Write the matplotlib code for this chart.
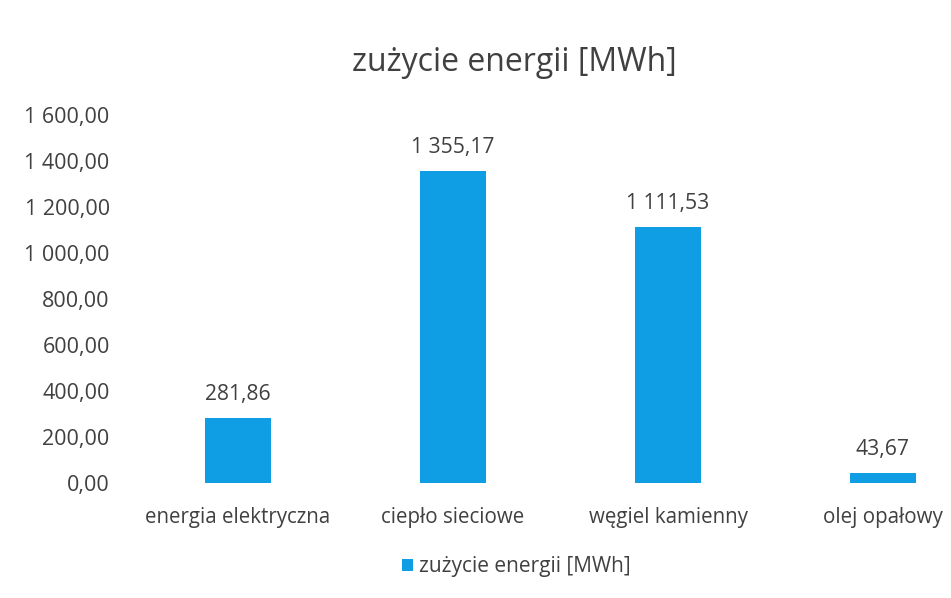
import matplotlib.pyplot as plt
from matplotlib.ticker import FuncFormatter

categories = ['energia elektryczna', 'ciepło sieciowe', 'węgiel kamienny', 'olej opałowy']
values = [281.86, 1355.17, 1111.53, 43.67]
series_name = 'zużycie energii [MWh]'
yticks = [0, 200, 400, 600, 800, 1000, 1200, 1400, 1600]

plt.rcParams['font.family'] = ['Open Sans', 'DejaVu Sans']

bar_color = '#0f9de4'
text_color = '#404040'


def pl_fmt(v, pos=None):
    # polish style: space as thousands sep, comma as decimal
    s = '{:,.2f}'.format(v)
    return s.replace(',', ' ').replace('.', ',')


fig = plt.figure(figsize=(9.51, 5.98), dpi=100)
ax = fig.add_axes([0.1372, 0.1923, 0.9043, 0.6154])

x = range(len(categories))
bars = ax.bar(x, values, width=0.31, color=bar_color, label=series_name)

for b, v in zip(bars, values):
    ax.annotate(pl_fmt(v), (b.get_x() + b.get_width() / 2, v),
                xytext=(0, 17), textcoords='offset points',
                ha='center', va='center', fontsize=15.2, color=text_color)

ax.set_xlim(-0.5, 3.5)
ax.set_ylim(0, 1600)
ax.set_yticks(yticks)
ax.yaxis.set_major_formatter(FuncFormatter(pl_fmt))
ax.set_xticks(list(x))
ax.set_xticklabels(categories)

ax.tick_params(axis='y', length=0, pad=15, labelsize=15.5, labelcolor=text_color)
ax.tick_params(axis='x', length=0, pad=17, labelsize=14.8, labelcolor=text_color)
for side in ['top', 'right', 'left', 'bottom']:
    ax.spines[side].set_visible(False)

fig.text(0.541, 0.895, series_name, ha='center', va='center', fontsize=23, color=text_color)

leg = fig.legend(loc='center', bbox_to_anchor=(0.543, 0.052), frameon=False,
                 fontsize=15, handlelength=0.55, handleheight=0.55, handletextpad=0.3)
for t in leg.get_texts():
    t.set_color(text_color)

fig.savefig('out.png', dpi=100)
